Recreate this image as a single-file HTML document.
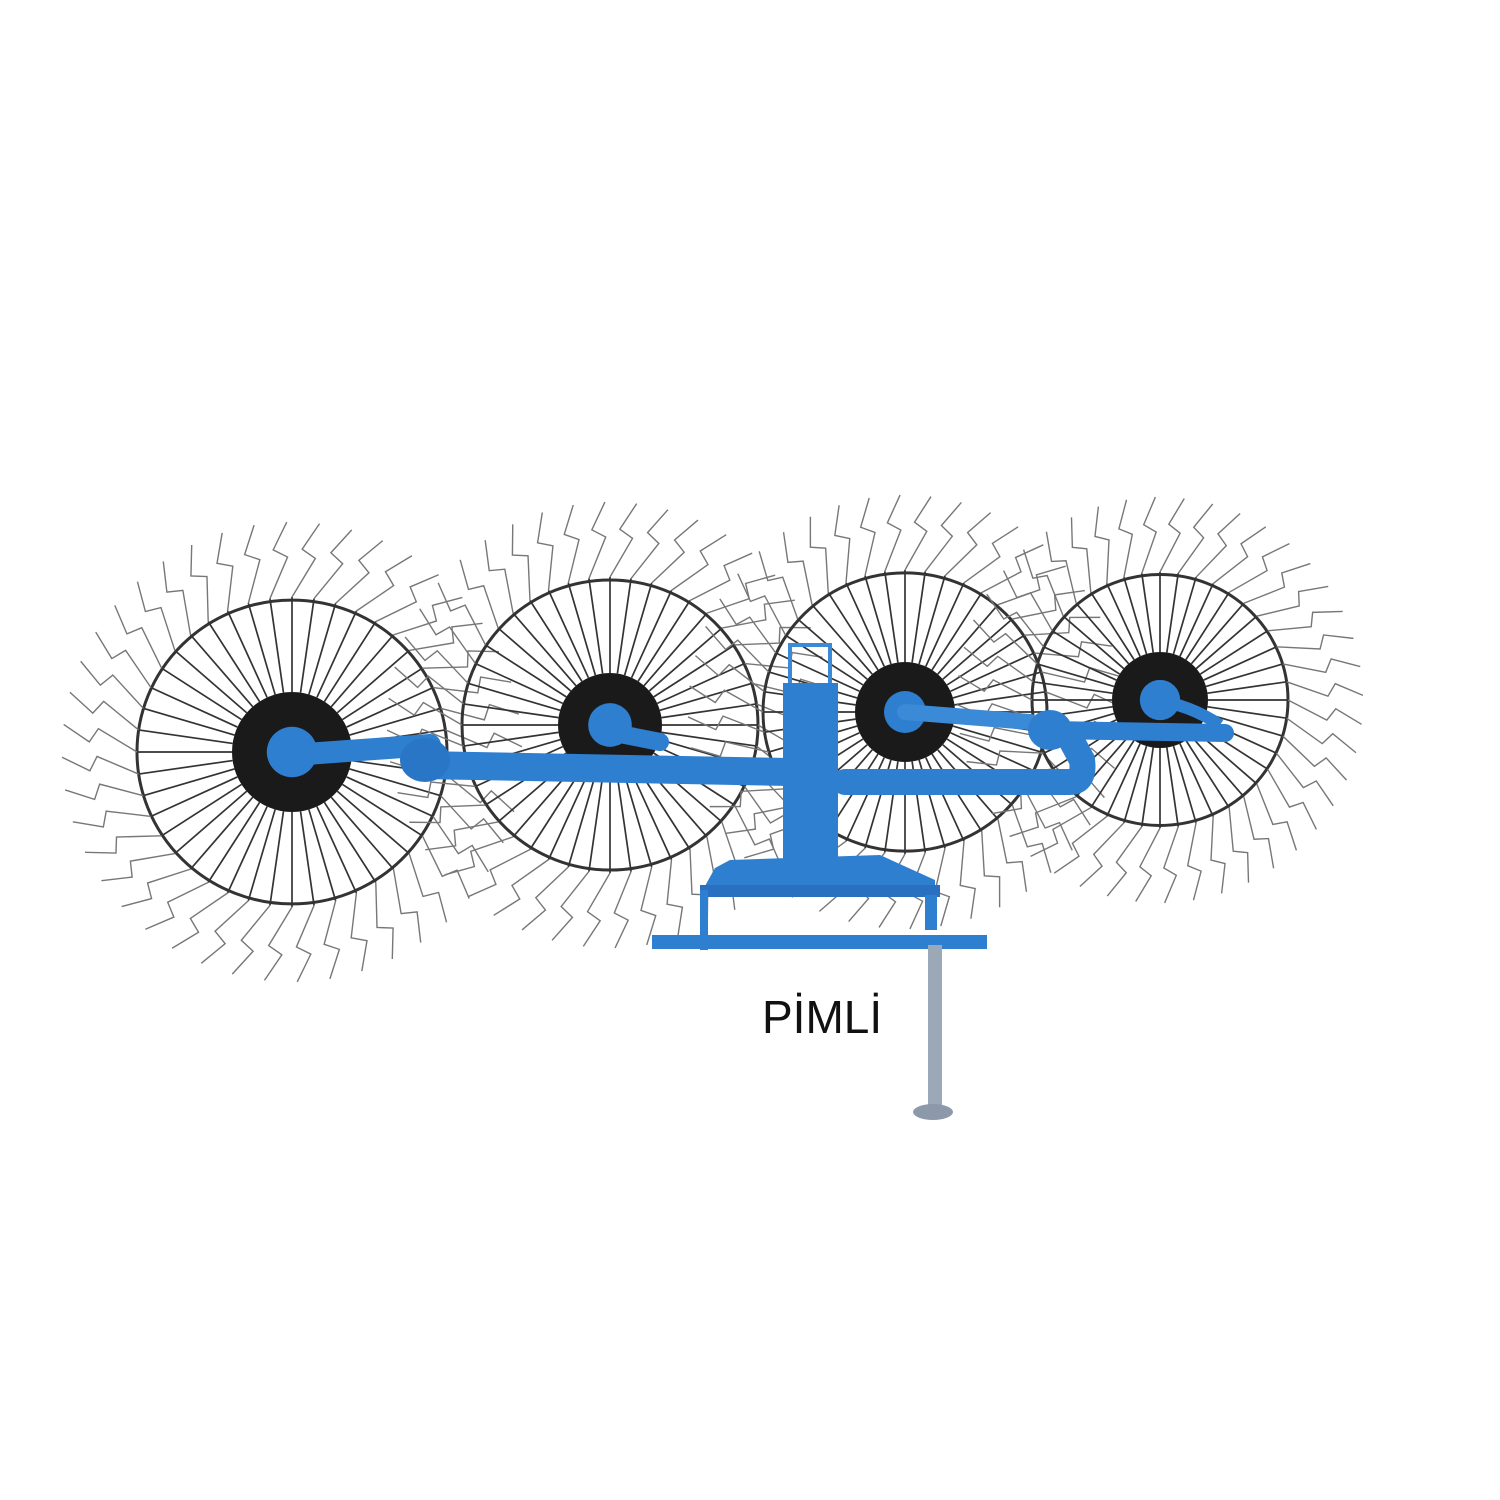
<!DOCTYPE html>
<html><head><meta charset="utf-8"><style>html,body{margin:0;padding:0;background:#fff}svg{display:block}</style></head>
<body>
<svg id="s" width="1500" height="1500" viewBox="0 0 1500 1500" xmlns="http://www.w3.org/2000/svg">
<g id="wheels" fill="none" stroke="#333" stroke-width="2"></g>
<g id="frame">
 <path d="M292 755 L430 745" stroke="#2f7fd0" stroke-width="22" stroke-linecap="round" fill="none"/>
 <path d="M420 765 L790 772" stroke="#2f7fd0" stroke-width="28" stroke-linecap="round" fill="none"/>
 <ellipse cx="425" cy="760" rx="25" ry="22" fill="#2a76c6"/>
 <path d="M600 730 L660 742" stroke="#2f7fd0" stroke-width="18" stroke-linecap="round"/>
 <path d="M845 782 L1070 782 Q1085 782 1082 760 L1070 738" stroke="#2f7fd0" stroke-width="26" fill="none" stroke-linecap="round"/>
 <path d="M905 712 L1030 722" stroke="#3a8ad8" stroke-width="16" stroke-linecap="round"/>
 <path d="M1050 730 L1225 733" stroke="#2f7fd0" stroke-width="18" stroke-linecap="round"/>
 <path d="M1155 700 Q1190 705 1220 725" stroke="#2f7fd0" stroke-width="12" fill="none"/>
 <ellipse cx="1050" cy="730" rx="22" ry="20" fill="#2f7fd0"/>
 <rect x="790" y="645" width="40" height="45" fill="none" stroke="#3a8ad8" stroke-width="4"/>
 <rect x="783" y="683" width="55" height="195" fill="#2f7fd0"/>
 <path d="M715 868 L730 860 L880 855 L935 880 L935 895 L700 895 Z" fill="#2f7fd0"/>
 <rect x="700" y="885" width="240" height="12" fill="#2a70c0"/>
 <rect x="700" y="890" width="8" height="60" fill="#2f7fd0"/>
 <rect x="925" y="895" width="12" height="35" fill="#2f7fd0"/>
 <rect x="652" y="935" width="335" height="14" fill="#2f7fd0"/>
 <rect x="928" y="945" width="14" height="165" fill="#9aa8b8"/>
 <ellipse cx="933" cy="1112" rx="20" ry="8" fill="#8c99aa"/>
</g>
<text x="762" y="1033" font-family="'Liberation Sans',sans-serif" font-size="46" fill="#111">PİMLİ</text>
</svg>
<script>
var g=document.getElementById('wheels'),ns='http://www.w3.org/2000/svg';
function el(n,a,p){var e=document.createElementNS(ns,n);for(var k in a)e.setAttribute(k,a[k]);(p||g).appendChild(e);return e;}
var W=[[292,752,155,60],[610,725,148,52],[905,712,142,50],[1160,700,128,48]];
W.forEach(function(w){
 var cx=w[0],cy=w[1],R=w[2],t=w[3];
 el('ellipse',{cx:cx,cy:cy,rx:R,ry:R*0.98,'stroke-width':3});
 var n=44;
 for(var i=0;i<n;i++){var a=i*2*Math.PI/n;
  el('line',{x1:cx+t*Math.cos(a),y1:cy+t*Math.sin(a),x2:cx+R*Math.cos(a),y2:cy+R*Math.sin(a),'stroke-width':1.7});
  var a2=a+0.12,r2=R+40,a3=a+0.05,r3=R+75;
  el('polyline',{points:(cx+R*Math.cos(a))+','+(cy+R*Math.sin(a))+' '+(cx+r2*Math.cos(a2))+','+(cy+r2*Math.sin(a2))+' '+(cx+(r2+8)*Math.cos(a3))+','+(cy+(r2+8)*Math.sin(a3))+' '+(cx+r3*Math.cos(a3+0.07))+','+(cy+r3*Math.sin(a3+0.07)),stroke:'#777','stroke-width':1.4});
 }
 el('circle',{cx:cx,cy:cy,r:t,fill:'#1a1a1a',stroke:'none'});
 el('circle',{cx:cx,cy:cy,r:t*0.42,fill:'#2f7fd0',stroke:'none'});
});
</script>
</body></html>
